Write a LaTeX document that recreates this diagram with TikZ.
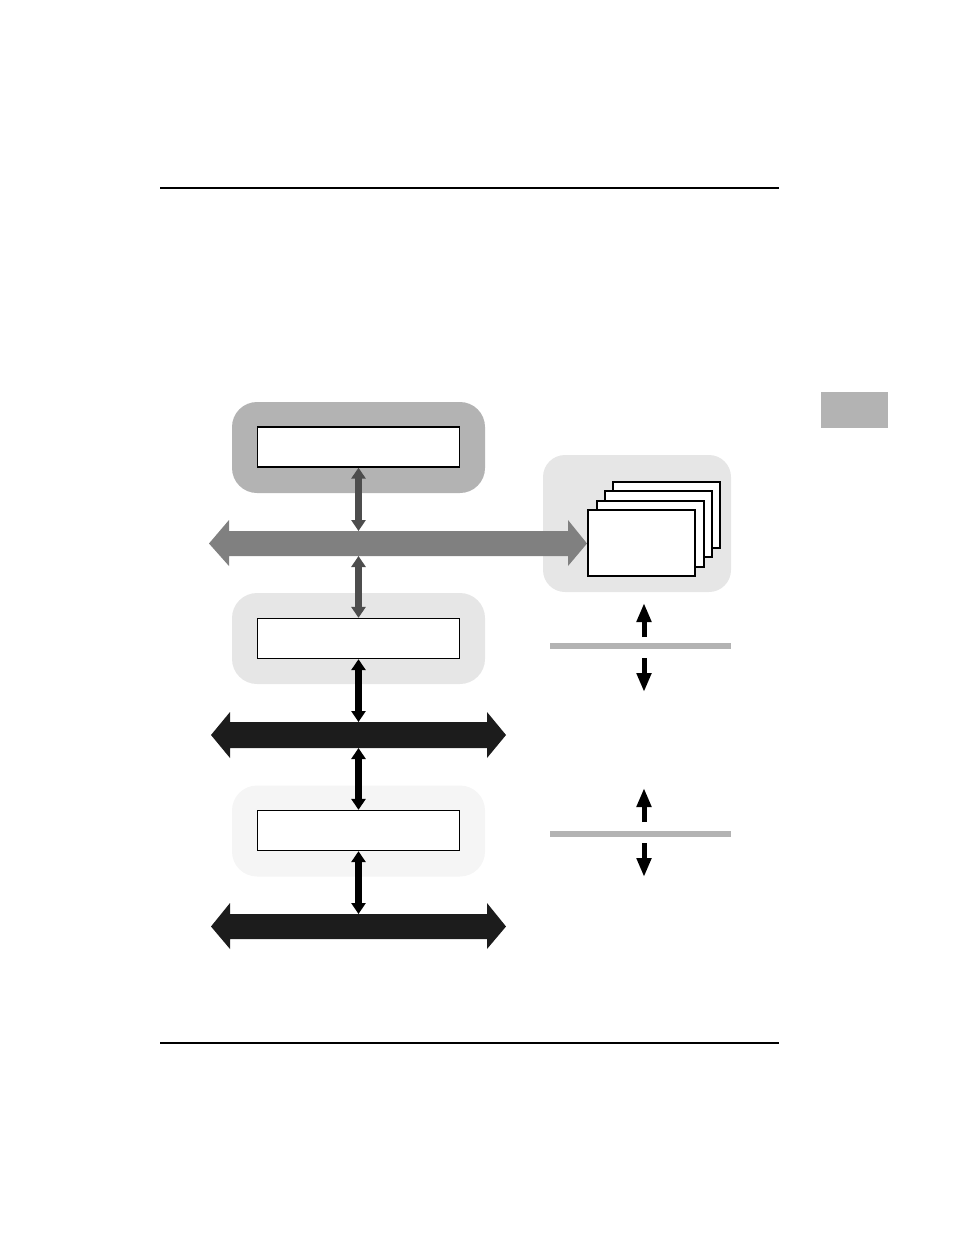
\documentclass[tikz,border=0pt]{standalone}
\usetikzlibrary{arrows.meta}
\definecolor{gdark}{HTML}{B3B3B3}
\definecolor{glight}{HTML}{E6E6E6}
\definecolor{gpale}{HTML}{F5F5F5}
\definecolor{busgray}{HTML}{808080}
\definecolor{conngray}{HTML}{4D4D4D}
\definecolor{busblack}{HTML}{1C1C1C}
\tikzset{
  outerbox/.style={rectangle, rounded corners=25pt, minimum width=253pt, minimum height=91pt, inner sep=0pt, draw=none},
  innerbox/.style={rectangle, draw=black, fill=white, line width=1.3pt, minimum width=202pt, minimum height=40pt, inner sep=0pt},
  card/.style={rectangle, draw=black, fill=white, line width=1.3pt, minimum width=107pt, minimum height=66pt, inner sep=0pt},
  vconn/.style={line width=6.5pt, {Triangle[width=14pt,length=11pt]}-{Triangle[width=14pt,length=11pt]}},
  smallup/.style={line width=5pt, -{Triangle[width=14pt,length=19pt]}},
  rule/.style={line width=1.2pt, black},
  levelline/.style={line width=6pt, gdark}
}
\begin{document}
\begin{tikzpicture}[x=1pt,y=-1pt]
\useasboundingbox (0,0) rectangle (954,1235);
% page rules and tab
\draw[rule] (160,188) -- (779,188);
\draw[rule] (160,1043) -- (779,1043);
\fill[gdark] (821,392) rectangle (888,428);
% rounded backgrounds
\node[outerbox, fill=gdark] (o1) at (358.5,447.5) {};
\node[outerbox, fill=glight] (o2) at (358.5,638.5) {};
\node[outerbox, fill=gpale] (o3) at (358.5,831) {};
\node[rectangle, rounded corners=22pt, fill=glight, minimum width=188pt, minimum height=137pt, inner sep=0pt] (panel) at (637,523.5) {};
% inner boxes
\node[innerbox] (r1) at (358.5,447) {};
\node[innerbox] (r2) at (358.5,638.5) {};
\node[innerbox] (r3) at (358.5,830.5) {};
% stacked cards
\node[card] (c4) at (666.5,515) {};
\node[card] (c3) at (658.5,524) {};
\node[card, line width=2pt] (c2) at (650,534) {};
\node[card] (c1) at (641.5,543) {};
% buses
\fill[busgray] (209,543.5) -- (229,520) -- (229,531) -- (568,531) -- (568,520) -- (587,543.5) -- (568,566) -- (568,556) -- (229,556) -- (229,566) -- cycle;
\fill[busblack] (211,735) -- (230,712) -- (230,722) -- (487,722) -- (487,712) -- (506,735) -- (487,758) -- (487,748) -- (230,748) -- (230,758) -- cycle;
\fill[busblack] (211,926.5) -- (230,903) -- (230,914) -- (487,914) -- (487,903) -- (506,926.5) -- (487,949) -- (487,939) -- (230,939) -- (230,949) -- cycle;
\coordinate (b1n) at (358.5,531);
\coordinate (b1s) at (358.5,556);
\coordinate (b2n) at (358.5,722);
\coordinate (b2s) at (358.5,748);
\coordinate (b3n) at (358.5,914);
% vertical connectors
\draw[vconn, conngray] (r1.south) -- (b1n);
\draw[vconn, conngray] (b1s) -- (r2.north);
\draw[vconn, black] (r2.south) -- (b2n);
\draw[vconn, black] (b2s) -- (r3.north);
\draw[vconn, black] (r3.south) -- (b3n);
% right side level lines and arrows
\draw[levelline] (550,646) -- (731,646);
\draw[levelline] (550,834) -- (731,834);
\coordinate (u1s) at (644,637);
\coordinate (u1e) at (644,603);
\coordinate (d1s) at (644,658);
\coordinate (d1e) at (644,692);
\coordinate (u2s) at (644,822);
\coordinate (u2e) at (644,788);
\coordinate (d2s) at (644,843);
\coordinate (d2e) at (644,877);
\draw[smallup] (u1s) -- (u1e);
\draw[smallup] (d1s) -- (d1e);
\draw[smallup] (u2s) -- (u2e);
\draw[smallup] (d2s) -- (d2e);
\end{tikzpicture}
\end{document}
